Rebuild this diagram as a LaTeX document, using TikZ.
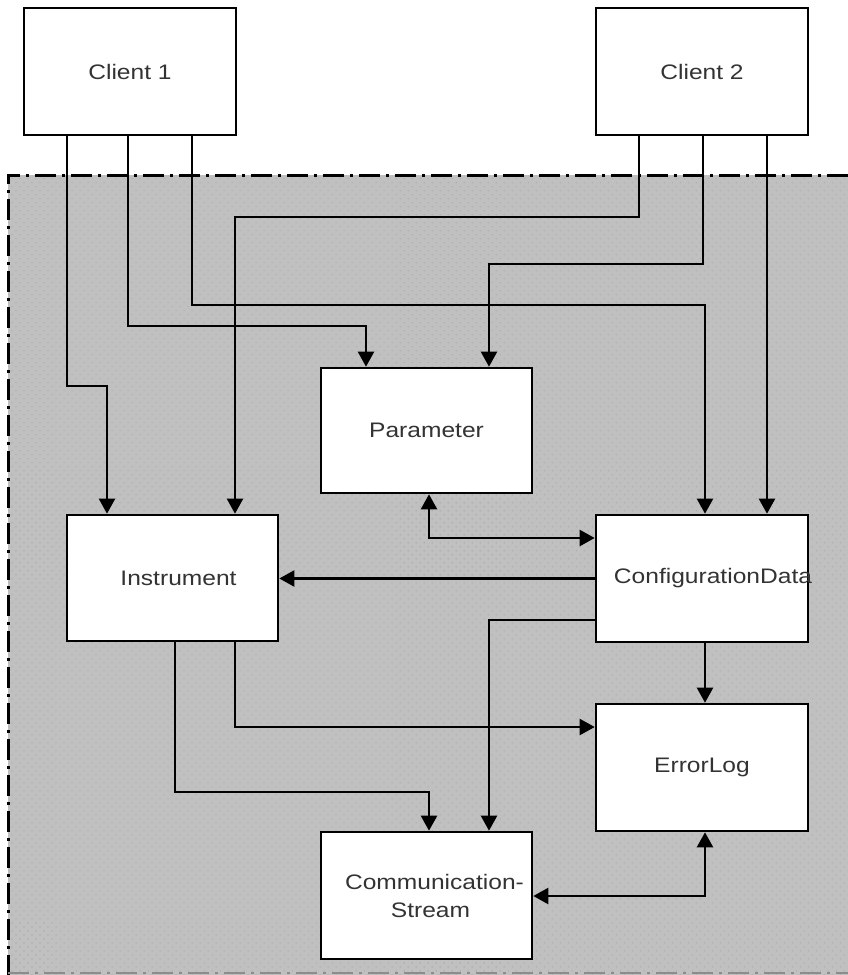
\documentclass[tikz,border=0pt]{standalone}
\usepackage{fontspec}
\setmainfont[FakeStretch=1.17]{Liberation Sans}
\usetikzlibrary{arrows.meta,patterns.meta}

\definecolor{zonegray}{HTML}{C0C0C0}
\definecolor{zonedot}{HTML}{ADADAD}
\definecolor{labelgray}{HTML}{333333}

\tikzset{
  box/.style={draw=black, line width=2.6pt, fill=white, rectangle,
    minimum width=212pt, minimum height=127pt, inner sep=0pt,
    text=labelgray, align=center,
    font=\fontsize{21}{28}\selectfont},
  link/.style={draw=black, line width=2.2pt},
  tip/.tip={Triangle[length=15pt,width=16pt]},
  arr/.style={link, -tip},
  arrboth/.style={link, tip-tip},
  zoneline/.style={line width=3pt, dash pattern=on 21pt off 6pt on 3pt off 6pt}
}

\begin{document}
\begin{tikzpicture}[x=1pt, y=-1pt]
  \useasboundingbox (0,0) rectangle (848,975);

  % shaded server zone with a fine dot texture
  \fill[zonegray] (8,175) rectangle (848,975);
  \fill[pattern={Dots[distance=5.66pt, angle=45, radius=0.75pt]}, pattern color=zonedot]
    (8,175) rectangle (848,975);
  \draw[zoneline] (848,175) -- (8,175) -- (8,975);
  \draw[zoneline, draw=black!45, line width=1.5pt] (8,973) -- (848,973);

  % components
  \node[box] (c1)   at (130,71.5)   {Client 1};
  \node[box] (c2)   at (702,71.5)   {Client 2};
  \node[box, minimum width=211pt, minimum height=125pt] (par) at (426.5,430.5) {Parameter};
  \node[box, minimum width=211pt, minimum height=126pt] (inst) at (172.5,578) {\makebox[0pt]{\hspace*{12pt}Instrument}};
  \node[box] (cfg)  at (702,578.5)  {\makebox[0pt]{\hspace*{22pt}ConfigurationData}};
  \node[box] (err)  at (702,767.5)  {ErrorLog};
  \node[box, minimum width=211pt] (com) at (426.5,895.5) {\makebox[0pt]{\hspace*{16pt}Communication-}\\\makebox[0pt]{\hspace*{8pt}Stream}};

  % Client 1 links
  \draw[arr] ([xshift=-63pt]c1.south) -- ++(0,250) -| ([xshift=-65.5pt]inst.north);
  \draw[arr] ([xshift=-2pt]c1.south) -- ++(0,190) -| ([xshift=-60.5pt]par.north);
  \draw[arr] ([xshift=62pt]c1.south) -- ++(0,169) -| ([xshift=3pt]cfg.north);

  % Client 2 links
  \draw[arr] ([xshift=-63pt]c2.south) -- ++(0,81) -| ([xshift=62.5pt]inst.north);
  \draw[arr] ([xshift=1pt]c2.south) -- ++(0,128) -| ([xshift=62.5pt]par.north);
  \draw[arr] ([xshift=65pt]c2.south) -- ([xshift=65pt]cfg.north);

  % links inside the zone
  \draw[arrboth] ([xshift=2.5pt]par.south) |- ([yshift=40.5pt]cfg.west);
  \draw[arr] (cfg.west) -- (cfg.west -| inst.east);
  \draw[arr] ([yshift=-41.5pt]cfg.west) -| ([xshift=62.5pt]com.north);
  \draw[arr] ([xshift=3pt]cfg.south) -- ([xshift=3pt]err.north);
  \draw[arr] ([xshift=62.5pt]inst.south) |- ([yshift=40.5pt]err.west);
  \draw[arr] ([xshift=2.5pt]inst.south) -- ++(0,150) -| ([xshift=2.5pt]com.north);
  \draw[arrboth] ([yshift=-0.5pt]com.east) -| ([xshift=3pt]err.south);
\end{tikzpicture}
\end{document}
